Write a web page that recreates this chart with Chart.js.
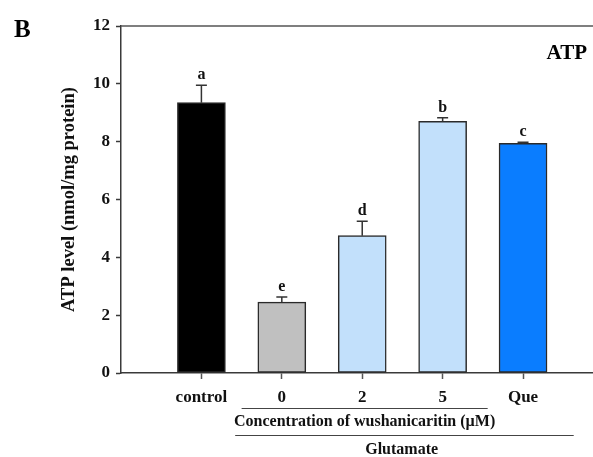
<!DOCTYPE html>
<html>
<head>
<meta charset="utf-8">
<script src="https://cdn.jsdelivr.net/npm/chart.js@4/dist/chart.umd.min.js"></script>
<style>
  html, body { margin: 0; padding: 0; background: #ffffff; }
  #wrap { width: 593px; height: 457px; }
</style>
</head>
<body>
<div id="wrap"><canvas id="atp" width="593" height="457"></canvas></div>
<script>
// Treatment groups, ATP means, SEM and significance letters
const categories = ['control', '0', '2', '5', 'Que'];
const atpMean = [9.35, 2.45, 4.75, 8.70, 7.94];
const atpErr = [0.60, 0.18, 0.50, 0.13, 0.04];
const sigLetters = ['a', 'e', 'd', 'b', 'c'];
const barColors = ['#000000', '#c0c0c0', '#c2e0fb', '#c2e0fb', '#0a7dff'];
const yTicks = [0, 2, 4, 6, 8, 10, 12];

const SERIF = "'Liberation Serif', 'Times New Roman', serif";
const AXIS = '#3a3a3a';

// error bars (upper only) and letter annotations
const annotate = {
  id: 'annotate',
  afterDatasetsDraw(chart) {
    const ctx = chart.ctx;
    const ys = chart.scales.y;
    const meta = chart.getDatasetMeta(0);
    ctx.save();
    meta.data.forEach((bar, i) => {
      const x = bar.x;
      const yTop = ys.getPixelForValue(atpMean[i]);
      const yErr = ys.getPixelForValue(atpMean[i] + atpErr[i]);
      ctx.strokeStyle = '#333333';
      ctx.lineWidth = 1.5;
      ctx.beginPath();
      ctx.moveTo(x, yTop);
      ctx.lineTo(x, yErr);
      ctx.moveTo(x - 5.5, yErr);
      ctx.lineTo(x + 5.5, yErr);
      ctx.stroke();
      ctx.fillStyle = '#111111';
      ctx.font = 'bold 16px ' + SERIF;
      ctx.textAlign = 'center';
      ctx.textBaseline = 'alphabetic';
      ctx.fillText(sigLetters[i], x, yErr - 6);
    });
    ctx.restore();
  },
  afterDraw(chart) {
    const ctx = chart.ctx;
    const xs = chart.scales.x;
    const ys = chart.scales.y;
    const area = chart.chartArea;
    ctx.save();
    // upper frame line
    ctx.strokeStyle = '#555555';
    ctx.lineWidth = 1.5;
    ctx.beginPath();
    ctx.moveTo(area.left, ys.getPixelForValue(12));
    ctx.lineTo(chart.width, ys.getPixelForValue(12));
    ctx.stroke();

    // panel letter and title
    ctx.fillStyle = '#000000';
    ctx.textBaseline = 'alphabetic';
    ctx.font = 'bold 25px ' + SERIF;
    ctx.textAlign = 'left';
    ctx.fillText('B', 14, 37);
    ctx.font = 'bold 21px ' + SERIF;
    ctx.textAlign = 'right';
    ctx.fillText('ATP', 587, 59);

    // grouping lines under the categories
    ctx.strokeStyle = '#444444';
    ctx.lineWidth = 1.2;
    ctx.beginPath();
    ctx.moveTo(xs.getPixelForValue(0.5), 408.5);
    ctx.lineTo(xs.getPixelForValue(3.56), 408.5);
    ctx.moveTo(xs.getPixelForValue(0.42), 435.5);
    ctx.lineTo(xs.getPixelForValue(4.63), 435.5);
    ctx.stroke();

    ctx.fillStyle = '#111111';
    ctx.font = 'bold 16px ' + SERIF;
    ctx.textAlign = 'center';
    ctx.textBaseline = 'middle';
    ctx.fillText('Concentration of wushanicaritin (\u00b5M)', xs.getPixelForValue(2.03), 422);
    ctx.fillText('Glutamate', xs.getPixelForValue(2.49), 450);
    ctx.restore();
  }
};

new Chart(document.getElementById('atp'), {
  type: 'bar',
  data: {
    datasets: [{
      data: categories.map((c, i) => ({ x: i, y: atpMean[i] })),
      backgroundColor: barColors,
      borderColor: '#2a2a2a',
      borderWidth: 1.5,
      borderSkipped: false,
      barThickness: 48
    }]
  },
  options: {
    responsive: false,
    devicePixelRatio: 1,
    animation: false,
    layout: { padding: { left: 0, top: 26, right: 0, bottom: 0 } },
    plugins: { legend: { display: false }, tooltip: { enabled: false } },
    scales: {
      x: {
        type: 'linear',
        min: -1,
        max: 4.87,
        offset: false,
        afterBuildTicks(scale) {
          scale.ticks = categories.map((c, i) => ({ value: i }));
        },
        afterFit(scale) { scale.height = 84; },
        grid: {
          offset: false,
          drawOnChartArea: false,
          drawTicks: true,
          tickLength: 6,
          tickColor: '#555555',
          tickWidth: 1.5
        },
        border: { color: AXIS, width: 1.5 },
        ticks: {
          autoSkip: false,
          maxRotation: 0,
          padding: 8,
          color: '#111111',
          font: { family: SERIF, size: 17, weight: 'bold' },
          callback: (v) => categories[v] ?? ''
        }
      },
      y: {
        min: 0,
        max: 12,
        afterBuildTicks(scale) {
          scale.ticks = yTicks.map(v => ({ value: v }));
        },
        afterFit(scale) { scale.width = 121; },
        grid: {
          drawOnChartArea: false,
          drawTicks: true,
          tickLength: 5,
          tickColor: AXIS,
          tickWidth: 1.5
        },
        border: { color: AXIS, width: 1.5 },
        ticks: {
          padding: 6,
          color: '#111111',
          font: { family: SERIF, size: 17, weight: 'bold' }
        },
        title: {
          display: true,
          text: 'ATP level (nmol/mg protein)',
          color: '#111111',
          font: { family: SERIF, size: 18.5, weight: 'bold' },
          padding: { top: 58, bottom: 0 }
        }
      }
    }
  },
  plugins: [annotate]
});
</script>
</body>
</html>
